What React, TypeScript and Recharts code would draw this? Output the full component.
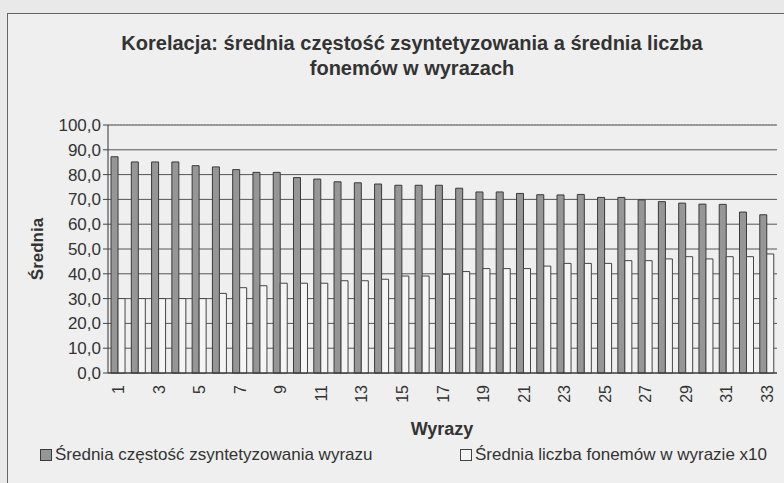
import { BarChart, Bar, XAxis, YAxis, CartesianGrid, ReferenceLine } from "recharts";

// word numbers on the category axis
const words = [
  1, 2, 3, 4, 5, 6, 7, 8, 9, 10, 11, 12, 13, 14, 15, 16, 17, 18, 19, 20, 21, 22, 23, 24, 25, 26,
  27, 28, 29, 30, 31, 32, 33,
];

// Średnia częstość zsyntetyzowania wyrazu
const avgFrequency = [
  87.2, 85.1, 85.1, 85.1, 83.6, 83.1, 82.0, 80.9, 80.9, 78.8, 78.2, 77.1, 76.7, 76.2, 75.7, 75.7,
  75.7, 74.5, 73.0, 73.0, 72.4, 71.9, 71.8, 72.0, 70.8, 70.8, 69.8, 69.1, 68.5, 68.1, 68.0, 64.9,
  63.8,
];

// Średnia liczba fonemów w wyrazie x10
const avgPhonemes = [
  30.0, 30.0, 30.0, 30.0, 30.0, 32.1, 34.4, 35.2, 36.2, 36.2, 36.2, 37.2, 37.2, 37.8, 39.1, 39.1,
  39.8, 40.9, 42.1, 42.1, 42.1, 43.1, 44.2, 44.2, 44.2, 45.3, 45.3, 46.0, 46.9, 46.0, 46.9, 46.9,
  48.0,
];

const yTicks = [0, 10, 20, 30, 40, 50, 60, 70, 80, 90, 100];
const edgeTicks = [
  0, 1, 2, 3, 4, 5, 6, 7, 8, 9, 10, 11, 12, 13, 14, 15, 16, 17, 18, 19, 20, 21, 22, 23, 24, 25, 26,
  27, 28, 29, 30, 31, 32, 33,
];

const data = words.map((w, i) => ({
  word: String(w),
  freq: avgFrequency[i],
  phon: avgPhonemes[i],
}));

const FONT = "'Liberation Sans', Arial, sans-serif";
const INK = "#333";

function WordTick({ x, y, payload }: any) {
  return (
    <text
      x={x}
      y={y}
      dy={6}
      transform={`rotate(-90 ${x} ${y})`}
      textAnchor="end"
      fontFamily={FONT}
      fontSize={16}
      fill={INK}
    >
      {payload.value}
    </text>
  );
}

export default function App() {
  return (
    <div
      style={{
        position: "absolute",
        left: 0,
        top: 0,
        width: 784,
        height: 483,
        overflow: "hidden",
        background: "#e9e9e9",
        fontFamily: FONT,
        color: INK,
      }}
    >
      <div
        style={{
          position: "absolute",
          left: 7,
          top: 13,
          width: 820,
          height: 600,
          border: "1px solid #666",
          background: "#efefef",
        }}
      />
      <div
        style={{
          position: "absolute",
          left: 7,
          top: 31,
          width: 810,
          textAlign: "center",
          fontWeight: "bold",
          fontSize: 20,
          lineHeight: "25px",
        }}
      >
        Korelacja: średnia częstość zsyntetyzowania a średnia liczba
        <br />
        fonemów w wyrazach
      </div>
      <BarChart
        width={784}
        height={483}
        data={data}
        margin={{ top: 125, right: 7, bottom: 80, left: 48 }}
        barCategoryGap="15%"
        barGap={0}
        style={{ position: "absolute", left: 0, top: 0 }}
      >
        <CartesianGrid vertical={false} stroke="#555" strokeOpacity={1} />
        <XAxis
          xAxisId="edges"
          type="number"
          domain={[0, 33]}
          ticks={edgeTicks}
          allowDataOverflow
          height={0}
          tickFormatter={() => ""}
          tickSize={5}
          tickLine={{ stroke: "#444" }}
          axisLine={false}
        />
        <XAxis
          dataKey="word"
          height={30}
          interval={1}
          tickLine={false}
          tickMargin={6}
          tick={<WordTick />}
          axisLine={{ stroke: "#333" }}
        />
        <YAxis
          width={60}
          domain={[0, 100]}
          ticks={yTicks}
          interval={0}
          tickFormatter={(v: number) => v.toFixed(1).replace(".", ",")}
          tickSize={5}
          tickMargin={2}
          tickLine={{ stroke: "#444" }}
          axisLine={{ stroke: "#333" }}
          tick={{ fill: INK, fontSize: 17, fontFamily: FONT }}
        />
        <ReferenceLine y={100} stroke="#888" strokeDasharray="2 1" />
        <ReferenceLine xAxisId="edges" x={33} stroke="#555" />
        <Bar dataKey="freq" fill="#969696" stroke="#3a3a3a" isAnimationActive={false} />
        <Bar dataKey="phon" fill="#f5f5f5" stroke="#444" isAnimationActive={false} />
      </BarChart>
      <div
        style={{
          position: "absolute",
          left: 38,
          top: 249,
          transform: "translate(-50%, -50%) rotate(-90deg)",
          fontWeight: "bold",
          fontSize: 17,
        }}
      >
        Średnia
      </div>
      <div
        style={{
          position: "absolute",
          left: 442,
          top: 429,
          transform: "translate(-50%, -50%)",
          fontWeight: "bold",
          fontSize: 18,
        }}
      >
        Wyrazy
      </div>
      <div
        style={{
          position: "absolute",
          left: 40,
          top: 445,
          display: "flex",
          alignItems: "center",
          fontSize: 17,
        }}
      >
        <span
          style={{
            width: 10,
            height: 10,
            background: "#969696",
            border: "1px solid #3a3a3a",
            marginRight: 3,
          }}
        />
        Średnia częstość zsyntetyzowania wyrazu
      </div>
      <div
        style={{
          position: "absolute",
          left: 460,
          top: 445,
          display: "flex",
          alignItems: "center",
          fontSize: 17,
        }}
      >
        <span
          style={{
            width: 10,
            height: 10,
            background: "#f5f5f5",
            border: "1px solid #444",
            marginRight: 3,
          }}
        />
        Średnia liczba fonemów w wyrazie x10
      </div>
    </div>
  );
}
